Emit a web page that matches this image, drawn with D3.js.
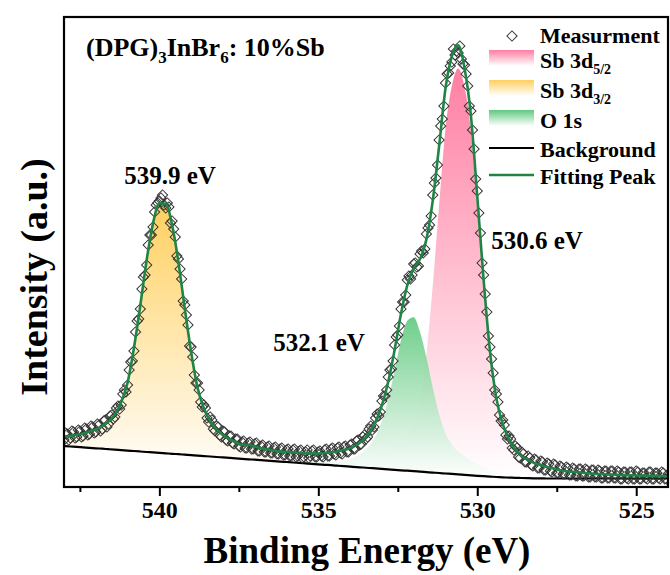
<!DOCTYPE html>
<html>
<head>
<meta charset="utf-8">
<script src="https://cdn.jsdelivr.net/npm/d3@7"></script>
<style>
  body { margin: 0; background: #fff; }
  text { font-family: "Liberation Serif", "Times New Roman", serif; font-weight: bold; }
</style>
</head>
<body>
<div id="chart"></div>
<script>
// fitting grid (eV), 0.2 eV step
var energy = [
  543.0, 542.8, 542.6, 542.4, 542.2, 542.0, 541.8, 541.6, 541.4, 541.2,
  541.0, 540.8, 540.6, 540.4, 540.2, 540.0, 539.8, 539.6, 539.4, 539.2,
  539.0, 538.8, 538.6, 538.4, 538.2, 538.0, 537.8, 537.6, 537.4, 537.2,
  537.0, 536.8, 536.6, 536.4, 536.2, 536.0, 535.8, 535.6, 535.4, 535.2,
  535.0, 534.8, 534.6, 534.4, 534.2, 534.0, 533.8, 533.6, 533.4, 533.2,
  533.0, 532.8, 532.6, 532.4, 532.2, 532.0, 531.8, 531.6, 531.4, 531.2,
  531.0, 530.8, 530.6, 530.4, 530.2, 530.0, 529.8, 529.6, 529.4, 529.2,
  529.0, 528.8, 528.6, 528.4, 528.2, 528.0, 527.8, 527.6, 527.4, 527.2,
  527.0, 526.8, 526.6, 526.4, 526.2, 526.0, 525.8, 525.6, 525.4, 525.2,
  525.0, 524.8, 524.6, 524.4, 524.2, 524.0];

var background = [
  41.0, 40.5, 40.1, 39.6, 39.2, 38.7, 38.3, 37.8, 37.3, 36.9,
  36.4, 36.0, 35.5, 35.0, 34.6, 34.1, 33.7, 33.2, 32.8, 32.3,
  31.8, 31.4, 30.9, 30.5, 30.0, 29.6, 29.1, 28.6, 28.2, 27.7,
  27.3, 26.8, 26.3, 25.9, 25.4, 25.0, 24.5, 24.1, 23.6, 23.1,
  22.7, 22.2, 21.8, 21.3, 20.8, 20.4, 19.9, 19.5, 19.0, 18.6,
  18.1, 17.6, 17.2, 16.7, 16.3, 15.8, 15.4, 14.9, 14.4, 14.0,
  13.5, 13.1, 12.6, 12.2, 11.7, 11.2, 10.8, 10.4, 10.0, 9.7,
  9.4, 9.2, 9.0, 8.8, 8.7, 8.6, 8.5, 8.5, 8.5, 8.5,
  8.5, 8.5, 8.5, 8.5, 8.5, 8.5, 8.5, 8.5, 8.5, 8.5,
  8.5, 8.5, 8.5, 8.5, 8.5, 8.5];

// Sb 3d3/2 component, height above background
var sb32 = [
  9.3, 10.6, 12.1, 13.9, 16.4, 18.9, 22.7, 27.7, 35.3, 47.9,
  68, 103, 146, 192, 229, 249.5, 249.5, 229, 192, 146,
  103, 68, 47.9, 35.3, 27.7, 22.7, 18.9, 16.4, 13.9, 12.1,
  10.6, 9.3, 8.6, 7.6, 7.0, 6.2, 5.7, 5.3, 4.9, 4.6,
  4.0, 3.8, 3.6, 3.4, 3.2, 2.8, 2.6, 2.4, 2.2, 2.0,
  1.8, 1.6, 1.4, 1.2, 1.0, 0, 0, 0, 0, 0,
  0, 0, 0, 0, 0, 0, 0, 0, 0, 0,
  0, 0, 0, 0, 0, 0, 0, 0, 0, 0,
  0, 0, 0, 0, 0, 0, 0, 0, 0, 0,
  0, 0, 0, 0, 0, 0];

// Sb 3d5/2 component
var sb52 = [
  0, 0, 0, 0, 0, 0, 0, 0, 0, 0,
  0, 0, 0, 0, 0, 0, 0, 0, 0, 0,
  0, 0, 0, 0, 0, 0, 0, 0, 0, 2.4,
  2.5, 2.6, 2.8, 2.9, 3.0, 3.2, 3.4, 3.6, 3.9, 4.2,
  4.5, 4.9, 5.5, 6.1, 6.7, 7.3, 8.3, 9.3, 10.6, 12.2,
  13.8, 16.2, 19.5, 25.2, 34.5, 48.7, 73, 118, 187, 268,
  345, 388, 406, 388, 345, 268, 187, 118, 73, 48.7,
  34.5, 25.2, 19.5, 16.2, 13.8, 12.2, 10.6, 9.3, 8.3, 7.3,
  6.7, 6.1, 5.5, 4.9, 4.5, 4.2, 3.9, 3.6, 3.4, 3.2,
  3.0, 2.9, 2.8, 2.6, 2.5, 2.4];

// O 1s component
var o1s = [
  0, 0, 0, 0, 0, 0, 0, 0, 0, 0,
  0, 0, 0, 0, 0, 0, 0, 0, 0, 0,
  0, 0, 0, 0, 0, 0, 0, 0, 0, 0,
  0, 0, 0, 0, 0, 0.8, 1.0, 1.2, 1.5, 1.9,
  2.3, 2.9, 3.7, 4.7, 6.2, 8.2, 11.2, 15.5, 22.5, 32.5,
  48, 70, 99, 130, 150, 154, 139.5, 114.7, 85, 59,
  40, 29.5, 23, 18.6, 14.7, 11.6, 9.3, 7.4, 5.9, 4.7,
  3.7, 2.9, 2.3, 1.8, 1.4, 1.1, 0.8, 0.6, 0, 0,
  0, 0, 0, 0, 0, 0, 0, 0, 0, 0,
  0, 0, 0, 0, 0, 0];

// measured spectrum, points on the x.x0 eV channel
var measEnergy = [
  543.0, 542.9, 542.8, 542.7, 542.6, 542.5, 542.4, 542.3, 542.2, 542.1,
  542.0, 541.9, 541.8, 541.7, 541.6, 541.5, 541.4, 541.3, 541.2, 541.1,
  541.0, 540.9, 540.8, 540.7, 540.6, 540.5, 540.4, 540.3, 540.2, 540.1,
  540.0, 539.9, 539.8, 539.7, 539.6, 539.5, 539.4, 539.3, 539.2, 539.1,
  539.0, 538.9, 538.8, 538.7, 538.6, 538.5, 538.4, 538.3, 538.2, 538.1,
  538.0, 537.9, 537.8, 537.7, 537.6, 537.5, 537.4, 537.3, 537.2, 537.1,
  537.0, 536.9, 536.8, 536.7, 536.6, 536.5, 536.4, 536.3, 536.2, 536.1,
  536.0, 535.9, 535.8, 535.7, 535.6, 535.5, 535.4, 535.3, 535.2, 535.1,
  535.0, 534.9, 534.8, 534.7, 534.6, 534.5, 534.4, 534.3, 534.2, 534.1,
  534.0, 533.9, 533.8, 533.7, 533.6, 533.5, 533.4, 533.3, 533.2, 533.1,
  533.0, 532.9, 532.8, 532.7, 532.6, 532.5, 532.4, 532.3, 532.2, 532.1,
  532.0, 531.9, 531.8, 531.7, 531.6, 531.5, 531.4, 531.3, 531.2, 531.1,
  531.0, 530.9, 530.8, 530.7, 530.6, 530.5, 530.4, 530.3, 530.2, 530.1,
  530.0, 529.9, 529.8, 529.7, 529.6, 529.5, 529.4, 529.3, 529.2, 529.1,
  529.0, 528.9, 528.8, 528.7, 528.6, 528.5, 528.4, 528.3, 528.2, 528.1,
  528.0, 527.9, 527.8, 527.7, 527.6, 527.5, 527.4, 527.3, 527.2, 527.1,
  527.0, 526.9, 526.8, 526.7, 526.6, 526.5, 526.4, 526.3, 526.2, 526.1,
  526.0, 525.9, 525.8, 525.7, 525.6, 525.5, 525.4, 525.3, 525.2, 525.1,
  525.0, 524.9, 524.8, 524.7, 524.6, 524.5, 524.4, 524.3, 524.2, 524.1,
  524.0];

var measIntensity = [
  47, 53, 49, 55, 50, 56, 51, 58, 53, 60,
  55, 62, 58, 67, 63, 72, 70, 81, 82, 97,
  102, 125, 136, 166, 178, 210, 222, 252, 260, 282,
  286, 292, 279, 280, 266, 250, 228, 208, 182, 162,
  140, 112, 104, 85, 82, 69, 70, 58, 61, 52,
  56, 47, 51, 44, 48, 41, 45, 39, 44, 38,
  43, 36, 41, 35, 40, 34, 39, 33, 38, 32,
  37, 31, 37, 30, 36, 29, 35, 29, 36, 30,
  35, 31, 37, 31, 38, 33, 39, 34, 40, 35,
  42, 38, 46, 42, 50, 48, 58, 57, 69, 71,
  86, 91, 110, 118, 142, 152, 178, 185, 207, 208,
  223, 220, 233, 234, 253, 262, 292, 309, 347, 368,
  404, 414, 425, 432, 434, 428, 422, 401, 376, 338,
  296, 254, 212, 175, 140, 114, 93, 72, 67, 52,
  51, 39, 41, 30, 35, 25, 31, 22, 28, 19,
  26, 17, 24, 16, 23, 14, 21, 13, 20, 12,
  19, 11, 18, 11, 18, 10, 17, 10, 17, 9,
  16, 9, 16, 9, 16, 8, 15, 9, 15, 8,
  16, 8, 14, 9, 15, 8, 14, 9, 15, 8,
  13];

// measured spectrum, points on the x.x5 eV channel
var measEnergyHalf = [
  542.95, 542.85, 542.75, 542.65, 542.55, 542.45, 542.35, 542.25, 542.15, 542.05,
  541.95, 541.85, 541.75, 541.65, 541.55, 541.45, 541.35, 541.25, 541.15, 541.05,
  540.95, 540.85, 540.75, 540.65, 540.55, 540.45, 540.35, 540.25, 540.15, 540.05,
  539.95, 539.85, 539.75, 539.65, 539.55, 539.45, 539.35, 539.25, 539.15, 539.05,
  538.95, 538.85, 538.75, 538.65, 538.55, 538.45, 538.35, 538.25, 538.15, 538.05,
  537.95, 537.85, 537.75, 537.65, 537.55, 537.45, 537.35, 537.25, 537.15, 537.05,
  536.95, 536.85, 536.75, 536.65, 536.55, 536.45, 536.35, 536.25, 536.15, 536.05,
  535.95, 535.85, 535.75, 535.65, 535.55, 535.45, 535.35, 535.25, 535.15, 535.05,
  534.95, 534.85, 534.75, 534.65, 534.55, 534.45, 534.35, 534.25, 534.15, 534.05,
  533.95, 533.85, 533.75, 533.65, 533.55, 533.45, 533.35, 533.25, 533.15, 533.05,
  532.95, 532.85, 532.75, 532.65, 532.55, 532.45, 532.35, 532.25, 532.15, 532.05,
  531.95, 531.85, 531.75, 531.65, 531.55, 531.45, 531.35, 531.25, 531.15, 531.05,
  530.95, 530.85, 530.75, 530.65, 530.55, 530.45, 530.35, 530.25, 530.15, 530.05,
  529.95, 529.85, 529.75, 529.65, 529.55, 529.45, 529.35, 529.25, 529.15, 529.05,
  528.95, 528.85, 528.75, 528.65, 528.55, 528.45, 528.35, 528.25, 528.15, 528.05,
  527.95, 527.85, 527.75, 527.65, 527.55, 527.45, 527.35, 527.25, 527.15, 527.05,
  526.95, 526.85, 526.75, 526.65, 526.55, 526.45, 526.35, 526.25, 526.15, 526.05,
  525.95, 525.85, 525.75, 525.65, 525.55, 525.45, 525.35, 525.25, 525.15, 525.05,
  524.95, 524.85, 524.75, 524.65, 524.55, 524.45, 524.35, 524.25, 524.15, 524.05];

var measIntensityHalf = [
  54, 47, 56, 49, 57, 50, 59, 52, 61, 54,
  63, 56, 66, 60, 71, 68, 79, 78, 93, 95,
  117, 126, 155, 168, 198, 212, 242, 252, 275, 284,
  289, 282, 284, 264, 258, 231, 218, 186, 172, 141,
  130, 104, 97, 80, 79, 65, 67, 56, 60, 50,
  55, 46, 51, 43, 48, 40, 46, 39, 45, 38,
  44, 36, 42, 35, 41, 34, 40, 33, 39, 32,
  38, 31, 38, 31, 37, 30, 37, 31, 37, 30,
  36, 30, 38, 31, 39, 32, 40, 33, 41, 35,
  43, 38, 47, 43, 52, 50, 61, 60, 73, 75,
  91, 97, 117, 126, 150, 161, 185, 192, 211, 212,
  224, 221, 236, 238, 259, 271, 304, 322, 361, 381,
  413, 421, 438, 436, 441, 423, 413, 381, 357, 308,
  274, 224, 193, 151, 128, 97, 85, 66, 62, 48,
  48, 37, 39, 29, 33, 25, 29, 21, 27, 19,
  25, 17, 23, 15, 22, 14, 20, 13, 19, 12,
  18, 11, 18, 11, 17, 10, 17, 10, 16, 9,
  16, 9, 16, 9, 15, 8, 15, 8, 15, 8,
  15, 8, 14, 8, 15, 8, 14, 8, 14, 8];

var xTicks = [540, 535, 530, 525];
var xMinorTicks = [542.5, 537.5, 532.5, 527.5];
var peakLabels = ["539.9 eV", "532.1 eV", "530.6 eV"];

var width = 670, height = 575;
var margin = {left: 64, right: 2, top: 17, bottom: 88};

var x = d3.scaleLinear().domain([543, 524]).range([margin.left, width - margin.right]);
var y = d3.scaleLinear().domain([0, 470]).range([height - margin.bottom, margin.top]);

var svg = d3.select("#chart").append("svg")
    .attr("width", width)
    .attr("height", height);

var defs = svg.append("defs");

function addGradient(id, color) {
  var g = defs.append("linearGradient")
      .attr("id", id)
      .attr("x1", 0).attr("y1", 0).attr("x2", 0).attr("y2", 1);
  g.append("stop").attr("offset", "0%").attr("stop-color", color);
  g.append("stop").attr("offset", "100%").attr("stop-color", "#ffffff");
}
addGradient("gradPink", "#ff7fa3");
addGradient("gradYellow", "#ffd060");
addGradient("gradGreen", "#5fc97e");

defs.append("clipPath").attr("id", "plotClip")
  .append("rect")
    .attr("x", margin.left).attr("y", margin.top)
    .attr("width", width - margin.left - margin.right)
    .attr("height", height - margin.top - margin.bottom);

var rows = energy.map(function(e, i) {
  return {
    e: e,
    bg: background[i],
    sb32: sb32[i],
    sb52: sb52[i],
    o1s: o1s[i],
    fit: background[i] + sb32[i] + sb52[i] + o1s[i]
  };
});

var measured = measEnergy.map(function(e, i) { return [e, measIntensity[i]]; })
  .concat(measEnergyHalf.map(function(e, i) { return [e, measIntensityHalf[i]]; }));

var plot = svg.append("g").attr("clip-path", "url(#plotClip)");

function componentArea(key) {
  return d3.area()
    .x(function(d) { return x(d.e); })
    .y0(function(d) { return y(d.bg); })
    .y1(function(d) { return y(d.bg + d[key]); })
    .curve(d3.curveMonotoneX);
}

plot.append("path").datum(rows)
    .attr("d", componentArea("sb52"))
    .attr("fill", "url(#gradPink)");

plot.append("path").datum(rows)
    .attr("d", componentArea("sb32"))
    .attr("fill", "url(#gradYellow)");

plot.append("path").datum(rows)
    .attr("d", componentArea("o1s"))
    .attr("fill", "url(#gradGreen)")
    .attr("fill-opacity", 0.9);

plot.append("path").datum(rows)
    .attr("d", d3.line()
      .x(function(d) { return x(d.e); })
      .y(function(d) { return y(d.bg); })
      .curve(d3.curveMonotoneX))
    .attr("fill", "none")
    .attr("stroke", "#000")
    .attr("stroke-width", 2.2);

var diamond = d3.symbol().type(d3.symbolSquare).size(52);

plot.selectAll(".meas")
  .data(measured)
  .enter().append("path")
    .attr("class", "meas")
    .attr("d", diamond)
    .attr("transform", function(d) {
      return "translate(" + x(d[0]) + "," + y(d[1]) + ") rotate(45)";
    })
    .attr("fill", "none")
    .attr("stroke", "#333")
    .attr("stroke-width", 1);

plot.append("path").datum(rows)
    .attr("d", d3.line()
      .x(function(d) { return x(d.e); })
      .y(function(d) { return y(d.fit); })
      .curve(d3.curveMonotoneX))
    .attr("fill", "none")
    .attr("stroke", "#1f8446")
    .attr("stroke-width", 2.6);

// axes
var xAxis = svg.append("g")
    .attr("transform", "translate(0," + y(0) + ")")
    .call(d3.axisBottom(x).tickValues(xTicks).tickSize(9).tickFormat(d3.format("d")));
xAxis.select(".domain").remove();
xAxis.selectAll("line").attr("stroke-width", 2);
xAxis.selectAll("text")
    .attr("y", 31).attr("dy", 0)
    .attr("font-size", 24)
    .attr("font-family", "Liberation Serif, Times New Roman, serif")
    .attr("font-weight", "bold")
    .attr("fill", "#000");

var xMinor = svg.append("g")
    .attr("transform", "translate(0," + y(0) + ")")
    .call(d3.axisBottom(x).tickValues(xMinorTicks).tickSize(5).tickFormat(""));
xMinor.select(".domain").remove();
xMinor.selectAll("line").attr("stroke-width", 2);

svg.append("rect")
    .attr("x", margin.left).attr("y", margin.top)
    .attr("width", width - margin.left - margin.right)
    .attr("height", height - margin.top - margin.bottom)
    .attr("fill", "none")
    .attr("stroke", "#000")
    .attr("stroke-width", 2.2);

svg.append("text")
    .attr("x", 367).attr("y", 563)
    .attr("text-anchor", "middle")
    .attr("font-size", 37)
    .text("Binding Energy (eV)");

svg.append("text")
    .attr("transform", "translate(47,277) rotate(-90)")
    .attr("text-anchor", "middle")
    .attr("font-size", 38)
    .text("Intensity (a.u.)");

// sample title
var title = svg.append("text").attr("x", 86).attr("y", 56).attr("font-size", 26);
title.append("tspan").text("(DPG)");
title.append("tspan").attr("font-size", 17).attr("dy", 7).text("3");
title.append("tspan").attr("dy", -7).text("InBr");
title.append("tspan").attr("font-size", 17).attr("dy", 7).text("6");
title.append("tspan").attr("dy", -7).text(": 10%Sb");

// peak position labels
var labelPos = [[170, 184], [319, 351], [537, 249]];
svg.selectAll(".peak-label")
  .data(peakLabels)
  .enter().append("text")
    .attr("class", "peak-label")
    .attr("x", function(d, i) { return labelPos[i][0]; })
    .attr("y", function(d, i) { return labelPos[i][1]; })
    .attr("text-anchor", "middle")
    .attr("font-size", 25)
    .text(function(d) { return d; });

// legend
var legend = svg.append("g");
var lx = 489, lw = 45, tx = 540;

legend.append("path")
    .attr("d", diamond)
    .attr("transform", "translate(512,36) rotate(45)")
    .attr("fill", "none")
    .attr("stroke", "#333");
legend.append("text").attr("x", tx).attr("y", 43).attr("font-size", 22).text("Measurment");

var swatches = [
  {grad: "gradPink", y: 50, sub: "5/2", label: "Sb 3d", ty: 68},
  {grad: "gradYellow", y: 80, sub: "3/2", label: "Sb 3d", ty: 98},
  {grad: "gradGreen", y: 110, sub: "", label: "O 1s", ty: 128}
];
swatches.forEach(function(s) {
  legend.append("rect")
      .attr("x", lx).attr("y", s.y)
      .attr("width", lw).attr("height", 16)
      .attr("fill", "url(#" + s.grad + ")");
  var t = legend.append("text").attr("x", tx).attr("y", s.ty).attr("font-size", 22);
  t.append("tspan").text(s.label);
  if (s.sub) t.append("tspan").attr("font-size", 14).attr("dy", 6).text(s.sub);
});

legend.append("line")
    .attr("x1", lx).attr("x2", lx + lw).attr("y1", 148).attr("y2", 148)
    .attr("stroke", "#000").attr("stroke-width", 2.2);
legend.append("text").attr("x", tx).attr("y", 157).attr("font-size", 22).text("Background");

legend.append("line")
    .attr("x1", lx).attr("x2", lx + lw).attr("y1", 175).attr("y2", 175)
    .attr("stroke", "#1f8446").attr("stroke-width", 2.6);
legend.append("text").attr("x", tx).attr("y", 184).attr("font-size", 22).text("Fitting Peak");
</script>
</body>
</html>
